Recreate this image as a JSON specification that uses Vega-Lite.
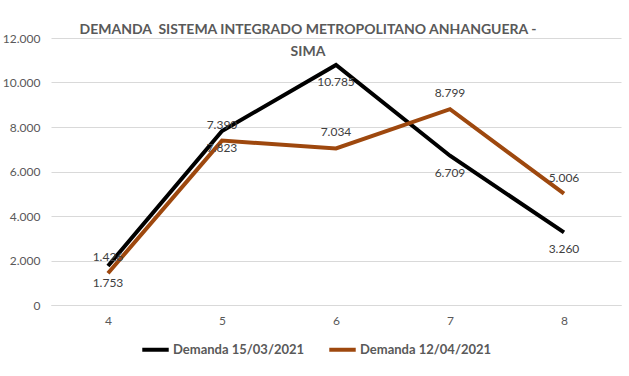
{
  "$schema": "https://vega.github.io/schema/vega-lite/v6.json",
  "autosize": {"type": "none"},
  "width": 570,
  "height": 267,
  "padding": {"left": 51, "top": 38, "right": 8, "bottom": 71},
  "background": "white",
  "title": {
    "text": ["DEMANDA \u00a0SISTEMA INTEGRADO METROPOLITANO ANHANGUERA -", "SIMA"],
    "anchor": "middle",
    "dx": -28,
    "offset": -27,
    "font": "Lato",
    "fontSize": 14,
    "fontWeight": "bold",
    "color": "#595959",
    "lineHeight": 22
  },
  "config": {
    "locale": {"number": {"decimal": ",", "thousands": ".", "grouping": [3], "currency": ["R$", ""]}},
    "view": {"stroke": null},
    "font": "Lato"
  },
  "data": {
    "values": [
      {"hora": 4, "serie": "Demanda 15/03/2021", "demanda": 1753},
      {"hora": 5, "serie": "Demanda 15/03/2021", "demanda": 7823},
      {"hora": 6, "serie": "Demanda 15/03/2021", "demanda": 10785},
      {"hora": 7, "serie": "Demanda 15/03/2021", "demanda": 6709},
      {"hora": 8, "serie": "Demanda 15/03/2021", "demanda": 3260},
      {"hora": 4, "serie": "Demanda 12/04/2021", "demanda": 1426},
      {"hora": 5, "serie": "Demanda 12/04/2021", "demanda": 7390},
      {"hora": 6, "serie": "Demanda 12/04/2021", "demanda": 7034},
      {"hora": 7, "serie": "Demanda 12/04/2021", "demanda": 8799},
      {"hora": 8, "serie": "Demanda 12/04/2021", "demanda": 5006}
    ]
  },
  "encoding": {
    "x": {
      "field": "hora",
      "type": "ordinal",
      "scale": {"type": "point", "padding": 0.5},
      "axis": {
        "title": null,
        "labelAngle": 0,
        "labelFont": "Lato",
        "labelFontSize": 12,
        "labelColor": "#595959",
        "labelPadding": 10,
        "ticks": false,
        "domainColor": "#d9d9d9",
        "grid": false
      }
    },
    "y": {
      "field": "demanda",
      "type": "quantitative",
      "scale": {"domain": [0, 12000], "nice": false},
      "axis": {
        "title": null,
        "values": [0, 2000, 4000, 6000, 8000, 10000, 12000],
        "format": ",d",
        "labelFont": "Lato",
        "labelFontSize": 12,
        "labelColor": "#595959",
        "labelPadding": 11,
        "ticks": false,
        "domain": false,
        "gridColor": "#d9d9d9",
        "gridWidth": 1
      }
    }
  },
  "layer": [
    {
      "mark": {"type": "line", "strokeWidth": 4},
      "encoding": {
        "color": {
          "field": "serie",
          "type": "nominal",
          "scale": {"domain": ["Demanda 15/03/2021", "Demanda 12/04/2021"], "range": ["#000000", "#9E480E"]},
          "legend": {
            "title": null,
            "orient": "none",
            "legendX": 89,
            "legendY": 296,
            "direction": "horizontal",
            "symbolType": "stroke",
            "symbolStrokeWidth": 4,
            "symbolSize": 700,
            "labelFont": "Lato",
            "labelFontSize": 13,
            "labelFontWeight": "bold",
            "labelColor": "#595959",
            "columnPadding": 16,
            "labelOffset": 2
          }
        }
      }
    },
    {
      "transform": [{"filter": "datum.serie === 'Demanda 15/03/2021'"}],
      "mark": {"type": "text", "dy": 17, "fontSize": 12, "font": "Lato", "color": "#404040"},
      "encoding": {"text": {"field": "demanda", "type": "quantitative", "format": ",d"}}
    },
    {
      "transform": [{"filter": "datum.serie === 'Demanda 12/04/2021'"}],
      "mark": {"type": "text", "dy": -16, "fontSize": 12, "font": "Lato", "color": "#404040"},
      "encoding": {"text": {"field": "demanda", "type": "quantitative", "format": ",d"}}
    }
  ]
}
